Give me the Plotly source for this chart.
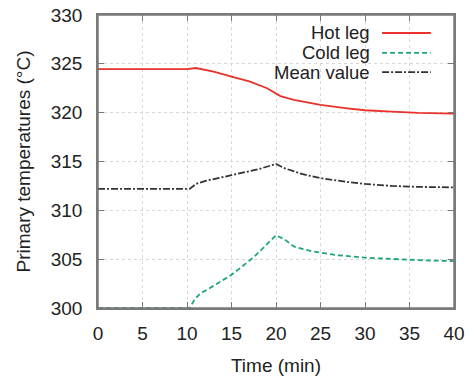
import plotly.graph_objects as go

# Data (time in minutes, temperatures in °C)
hot_t = [0, 10, 11, 13, 15, 17, 19, 20, 20.5, 22, 25, 28, 30, 33, 36, 40]
hot_v = [324.45, 324.45, 324.57, 324.2, 323.7, 323.2, 322.5, 322.0, 321.7, 321.3, 320.8, 320.45, 320.25, 320.1, 319.97, 319.9]

cold_t = [0, 10.3, 10.8, 11.5, 12.5, 15, 17.5, 20, 21, 22, 24, 27, 30, 33, 36, 40]
cold_v = [300.0, 300.0, 300.8, 301.5, 302.0, 303.4, 305.2, 307.45, 307.0, 306.3, 305.8, 305.4, 305.15, 305.0, 304.9, 304.8]

mean_t = [0, 10.3, 11, 12, 15, 18, 20, 21, 23, 25, 28, 30, 33, 36, 40]
mean_v = [312.2, 312.2, 312.7, 313.0, 313.6, 314.2, 314.75, 314.3, 313.7, 313.3, 312.9, 312.7, 312.5, 312.4, 312.35]

series_names = ["Hot leg", "Cold leg", "Mean value"]
x_ticks = [0, 5, 10, 15, 20, 25, 30, 35, 40]
y_ticks = [300, 305, 310, 315, 320, 325, 330]

colors = ["#e8322b", "#1ea57a", "#333333"]
dashes = ["solid", "5px,3px", "7px,2px,2px,2px"]

fig = go.Figure()
for t, v, name, c, d in zip([hot_t, cold_t, mean_t], [hot_v, cold_v, mean_v], series_names, colors, dashes):
    fig.add_trace(go.Scatter(x=t, y=v, mode="lines", name=name,
                             line=dict(color=c, width=1.8, dash=d), showlegend=False))

FONT = "Liberation Sans, Arial, sans-serif"

# Custom legend: right-aligned text with line sample to the right
leg_y = [0.9386, 0.871, 0.805]
for name, c, d, yy in zip(series_names, colors, dashes, leg_y):
    fig.add_annotation(x=0.770, y=yy, xref="paper", yref="paper", text=name,
                       showarrow=False, xanchor="right", yanchor="middle",
                       font=dict(family=FONT, size=18.5, color="#222222"))
    fig.add_shape(type="line", xref="paper", yref="paper", x0=0.798, x1=0.935, y0=yy, y1=yy,
                  line=dict(color=c, width=1.8, dash=d))

# plot frame
fig.add_shape(type="rect", xref="paper", yref="paper", x0=0, x1=1, y0=0, y1=1,
              line=dict(color="#7a7a7a", width=1.5), layer="above")

axis_common = dict(
    showline=True, linecolor="#7a7a7a", linewidth=1.5, mirror="allticks",
    ticks="inside", ticklen=6, tickcolor="#7a7a7a", tickwidth=1.3,
    showgrid=True, gridcolor="#d8d8d8", griddash="dot", gridwidth=1,
    zeroline=False, tickfont=dict(family=FONT, size=19, color="#222222"),
    automargin=False, ticklabeloverflow="allow",
)

fig.update_xaxes(range=[0, 40], tickvals=x_ticks, ticktext=[str(v) for v in x_ticks],
                 title=dict(text="Time (min)", font=dict(family=FONT, size=19, color="#222222"), standoff=18),
                 ticklabelstandoff=7, **axis_common)
fig.update_yaxes(range=[300, 330], tickvals=y_ticks, ticktext=[str(v) for v in y_ticks],
                 title=dict(text="Primary temperatures (°C)", font=dict(family=FONT, size=19, color="#222222"), standoff=15),
                 ticklabelstandoff=10, **axis_common)

fig.update_layout(
    width=469, height=376,
    margin=dict(l=98, r=15, t=15, b=68),
    paper_bgcolor="white", plot_bgcolor="white",
    font=dict(family=FONT, color="#222222"),
)

# remove the default 8px body margin so the figure fills the window exactly
fig.write_html("out.html", config={"displayModeBar": False},
               post_script="document.body.style.margin='0';")
